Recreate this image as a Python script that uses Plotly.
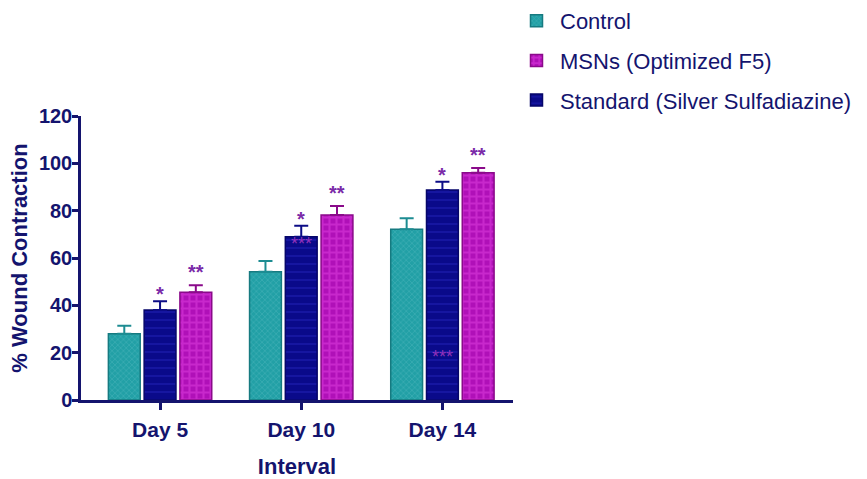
import plotly.graph_objects as go

categories = ["Day 5", "Day 10", "Day 14"]
control = [28.0, 54.2, 72.1]
control_err = [3.4, 4.5, 4.7]
standard = [38.0, 69.0, 88.7]
standard_err = [3.7, 4.6, 3.5]
msns = [45.5, 78.2, 96.0]
msns_err = [3.0, 3.8, 2.0]
standard_sig = ["*", "*", "*"]
msns_sig = ["**", "**", "**"]

NAVY = "#14146e"
BARGAP = 0.24
FONT = "Liberation Sans, Arial, sans-serif"
STAR = "#7a2aa8"

fig = go.Figure()

fig.add_trace(go.Bar(
    name="Control", x=categories, y=control,
    error_y=dict(type="data", array=control_err, symmetric=False, arrayminus=[0, 0, 0],
                 color="#1d8c92", thickness=2, width=7),
    marker=dict(color="#22a0a6", line=dict(color="#167a80", width=1.5),
                pattern=dict(shape="x", fillmode="overlay", fgcolor="#5cbcc0", size=4, solidity=0.3)),
    legendrank=1, legendgroup="c",
))
fig.add_trace(go.Bar(
    name="Standard (Silver Sulfadiazine)", x=categories, y=standard,
    error_y=dict(type="data", array=standard_err, symmetric=False, arrayminus=[0, 0, 0],
                 color="#0c0c86", thickness=2, width=7),
    marker=dict(color="#0a0a8a", line=dict(color="#06066a", width=1.5),
                pattern=dict(shape="-", fillmode="overlay", fgcolor="#2626c0", size=8, solidity=0.2)),
    legendrank=3, legendgroup="s",
))
fig.add_trace(go.Bar(
    name="MSNs (Optimized F5)", x=categories, y=msns,
    error_y=dict(type="data", array=msns_err, symmetric=False, arrayminus=[0, 0, 0],
                 color="#8a0a8a", thickness=2, width=7),
    marker=dict(color="#b010b8", line=dict(color="#8a0a8a", width=1.5),
                pattern=dict(shape="+", fillmode="overlay", fgcolor="#e040e0", size=7, solidity=0.5)),
    legendrank=2, legendgroup="m",
))

slot = (1 - BARGAP) / 3
for i, cat in enumerate(categories):
    fig.add_annotation(x=i, y=standard[i] + standard_err[i], text=standard_sig[i],
                       xref="x", yref="y", showarrow=False, yanchor="bottom", yshift=-6,
                       font=dict(color=STAR, size=20, family=FONT, weight="bold"))
    fig.add_annotation(x=i + slot, y=msns[i] + msns_err[i], text=msns_sig[i],
                       xref="x", yref="y", showarrow=False, yanchor="bottom", yshift=0,
                       font=dict(color=STAR, size=20, family=FONT, weight="bold"))

# faint stray asterisks visible inside the Standard bars
fig.add_annotation(x=1, y=standard[1] - 3, text="***", xref="x", yref="y", showarrow=False,
                   font=dict(color="rgba(190,60,200,0.75)", size=18, family=FONT))
fig.add_annotation(x=2, y=18, text="***", xref="x", yref="y", showarrow=False,
                   font=dict(color="rgba(190,60,200,0.75)", size=18, family=FONT))

fig.update_layout(
    width=867, height=479,
    margin=dict(l=81, r=354, t=116, b=79, autoexpand=False),
    paper_bgcolor="white", plot_bgcolor="white",
    barmode="group", bargap=BARGAP, bargroupgap=0.11,
    font=dict(family=FONT, color=NAVY),
    legend=dict(x=1.0, y=1.0, xref="paper", yref="container", xanchor="left", yanchor="top",
                font=dict(size=22, color=NAVY, family=FONT),
                tracegroupgap=8, itemwidth=37, bgcolor="rgba(0,0,0,0)"),
    showlegend=True,
)
fig.update_xaxes(
    showline=True, linecolor=NAVY, linewidth=2.5, ticks="outside", ticklen=7, tickwidth=2.5,
    tickcolor=NAVY, showgrid=False, zeroline=False, automargin=False, ticklabelstandoff=2,
    tickfont=dict(size=21, color=NAVY, family=FONT, weight="bold"),
    title=dict(text="Interval", font=dict(size=22, color=NAVY, family=FONT, weight="bold"), standoff=20),
    range=[-0.56, 2.5],
)
fig.update_yaxes(
    range=[0, 120], dtick=20, showline=True, linecolor=NAVY, linewidth=2.5, ticks="outside",
    ticklen=6, tickwidth=2.5, tickcolor=NAVY, showgrid=False, zeroline=False, automargin=False,
    ticklabelstandoff=-4,
    tickfont=dict(size=20, color=NAVY, family=FONT, weight="bold"),
    title=dict(text="% Wound Contraction", font=dict(size=22, color=NAVY, family=FONT, weight="bold"), standoff=6),
)

fig.write_html("out.html")
